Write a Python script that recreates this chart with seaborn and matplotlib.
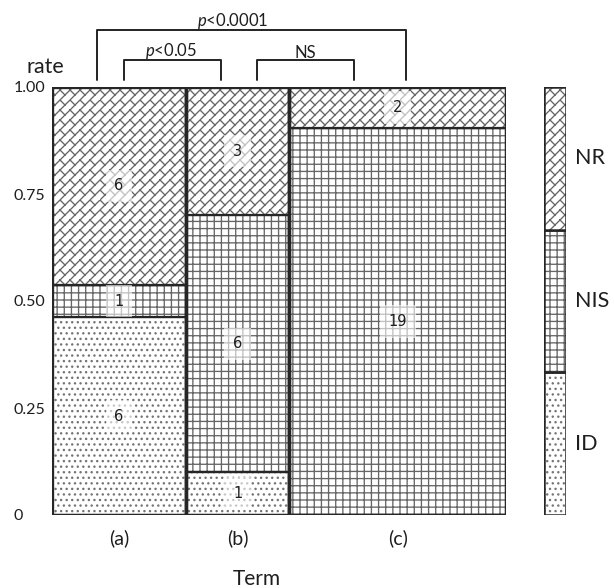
import warnings
warnings.filterwarnings('ignore')
import numpy as np
import pandas as pd
import matplotlib
matplotlib.use('Agg')
import matplotlib.pyplot as plt
from matplotlib import hatch as mhatch
from matplotlib.path import Path
import seaborn as sns

# ---------------- data ----------------
terms = ['(a)', '(b)', '(c)']
responses = ['ID', 'NIS', 'NR']
id_counts = [6, 1, 0]
nis_counts = [1, 6, 19]
nr_counts = [6, 3, 2]
ytick_values = [0, 0.25, 0.5, 0.75, 1.0]
ytick_labels = ['0', '0.25', '0.50', '0.75', '1.00']
sig_labels = [r'$\it{p}$<0.05', 'NS', r'$\it{p}$<0.0001']

# ---------------- custom hatches ----------------
class BrickHatch(mhatch.HatchPatternBase):
    def __init__(self, hatch, density):
        self.n = int(round(hatch.count('b') * 10))
        self.num_vertices = self.n * self.n * 4

    def set_vertices_and_codes(self, vertices, codes):
        n = self.n
        s = 1.0 / n
        segs = []
        for i in range(n):
            for j in range(n):
                x0, y0 = i * s, j * s
                segs.append([(x0, y0), (x0 + s, y0 + s)])
                segs.append([(x0 + 0.5 * s, y0 + 0.5 * s), (x0, y0 + s)])
        vertices[:] = np.array(segs).reshape(-1, 2)
        codes[0::2] = Path.MOVETO
        codes[1::2] = Path.LINETO


class GridHatch(mhatch.HatchPatternBase):
    def __init__(self, hatch, density):
        self.n = int(round(hatch.count('g') * 14))
        self.num_vertices = (self.n + 1) * 4 if self.n else 0

    def set_vertices_and_codes(self, vertices, codes):
        steps = np.linspace(0, 1, self.n + 1)
        segs = []
        for s in steps:
            segs.append([(s, 0), (s, 1)])
            segs.append([(0, s), (1, s)])
        vertices[:] = np.array(segs).reshape(-1, 2)
        codes[0::2] = Path.MOVETO
        codes[1::2] = Path.LINETO

mhatch._hatch_types.extend([BrickHatch, GridHatch])

sns.set_theme(style='white')
plt.rcParams['font.family'] = ['Lato', 'DejaVu Sans']
plt.rcParams['hatch.linewidth'] = 0.95
plt.rcParams['mathtext.fontset'] = 'custom'
plt.rcParams['mathtext.rm'] = 'Lato'
plt.rcParams['mathtext.it'] = 'Lato:italic'

counts = pd.DataFrame({'ID': id_counts, 'NIS': nis_counts, 'NR': nr_counts}, index=terms)
totals = counts.sum(axis=1)
widths = (totals / totals.sum()).values
lefts = np.concatenate([[0], np.cumsum(widths)[:-1]])
centers = lefts + widths / 2
props = counts.div(totals, axis=0)

styles = {
    'ID': dict(hatch='...', hc='#747474'),
    'NIS': dict(hatch='g', hc='#666666'),
    'NR': dict(hatch='b', hc='#666666'),
}

W, H = 614, 588
fig = plt.figure(figsize=(W / 100, H / 100), dpi=100)
L, R, T, B = 52, 506, 87, 515
ax = fig.add_axes([L / W, (H - B) / H, (R - L) / W, (B - T) / H])
lax = fig.add_axes([544 / W, (H - B) / H, 22 / W, (B - T) / H])

edge = '#262626'
txt = '#1e1e1e'
bottoms = np.zeros(len(terms))
for r in responses:
    h = props[r].values
    ax.bar(lefts, h, width=widths, bottom=bottoms, align='edge', color='white',
           edgecolor=styles[r]['hc'], hatch=styles[r]['hatch'], linewidth=0)
    ax.bar(lefts, h, width=widths, bottom=bottoms, align='edge', fill=False,
           edgecolor=edge, linewidth=1.6)
    for xc, hh, bb, c in zip(centers, h, bottoms, counts[r].values):
        if c > 0:
            ax.text(xc, bb + hh / 2, str(c), ha='center', va='center', fontsize=10.5,
                    color=txt, fontfamily='DejaVu Sans',
                    bbox=dict(boxstyle='square,pad=0.6', fc='white', ec='none', alpha=0.6))
    bottoms = bottoms + h
ax.bar(lefts, np.ones(len(terms)), width=widths, align='edge', fill=False,
       edgecolor=edge, linewidth=2.4)

ax.set_xlim(0, 1)
ax.set_ylim(0, 1)
for s in ax.spines.values():
    s.set_visible(False)
ax.set_yticks(ytick_values)
ax.set_yticklabels(ytick_labels, fontsize=11.5, color=txt)
ax.tick_params(axis='y', length=0, pad=27.4)
for lbl in ax.get_yticklabels():
    lbl.set_horizontalalignment('left')
ax.set_xticks(centers)
ax.set_xticklabels(terms, fontsize=14, color=txt)
ax.tick_params(axis='x', length=0, pad=10)
ax.set_xlabel('Term', fontsize=15, color=txt)
ax.xaxis.set_label_coords((257 - L) / (R - L), -(569 - B) / (B - T))
ax.xaxis.label.set_va('top')

fig.text(45 / W, 1 - 67 / H, 'rate', fontsize=15.5, ha='center', va='center', color=txt)

# significance brackets (axes coordinates)
def px2ax(xp):
    return (xp - L) / (R - L)

def py2ax(yp):
    return (B - yp) / (B - T)

brackets = [(124, 221, 60, 171), (257, 354, 60, 305), (97, 406, 30, 233)]
for (x1, x2, yt, tx), lab in zip(brackets, sig_labels):
    xs = [px2ax(x1), px2ax(x1), px2ax(x2), px2ax(x2)]
    ys = [py2ax(80), py2ax(yt), py2ax(yt), py2ax(80)]
    ax.plot(xs, ys, color='#222222', lw=1.4, clip_on=False, transform=ax.transAxes)
    ax.text(px2ax(tx), py2ax(yt + 1), lab, ha='center', va='bottom', fontsize=12,
            color=txt, transform=ax.transAxes)

# legend bar
lb = 0.0
for r in responses:
    lax.bar([0], [1 / 3], width=1, bottom=lb, align='edge', color='white',
            edgecolor=styles[r]['hc'], hatch=styles[r]['hatch'], linewidth=0)
    lax.bar([0], [1 / 3], width=1, bottom=lb, align='edge', fill=False,
            edgecolor=edge, linewidth=1.8)
    lax.text(1.4, lb + 1 / 6, r, ha='left', va='center', fontsize=15.5,
             color=txt, transform=lax.transData)
    lb += 1 / 3
lax.set_xlim(0, 1)
lax.set_ylim(0, 1)
lax.axis('off')

fig.savefig('out.png', dpi=100)
